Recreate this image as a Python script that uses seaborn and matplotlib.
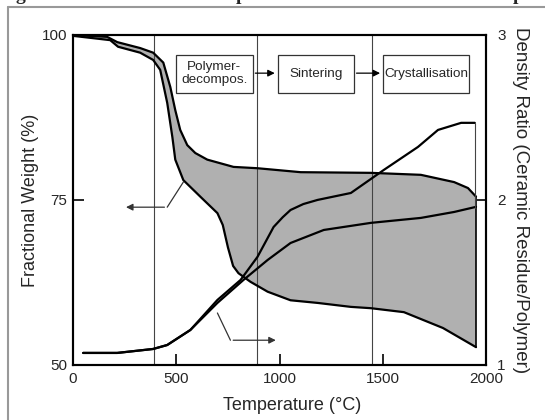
import numpy as np
import matplotlib
matplotlib.use("Agg")
import matplotlib.pyplot as plt
from matplotlib.patches import Rectangle
from matplotlib.lines import Line2D
import seaborn as sns

# weight loss band (upper / lower boundary), left axis, %
temp_upper = [0, 165, 214, 325, 388, 437, 471, 495, 519, 553, 592, 650, 777, 893, 1102, 1442, 1684, 1845, 1912, 1951]
weight_upper = [100, 99.7, 98.9, 98.0, 97.3, 95.8, 92.1, 88.6, 85.6, 83.3, 82.1, 81.1, 80.0, 79.8, 79.2, 79.1, 78.8, 77.7, 76.8, 75.5]

temp_lower = [0, 180, 218, 325, 388, 422, 456, 481, 495, 534, 616, 699, 725, 750, 775, 801, 859, 942, 1053, 1184, 1345, 1442, 1602, 1791, 1951]
weight_lower = [99.85, 99.2, 98.2, 97.3, 96.2, 94.7, 89.7, 84.5, 81.1, 78.0, 75.5, 73.0, 71.2, 67.8, 65.0, 63.9, 62.6, 61.1, 59.8, 59.4, 58.8, 58.6, 58.0, 55.6, 52.7]

# density ratio curves, right axis
temp_dens_a = [49, 214, 388, 456, 568, 699, 811, 893, 971, 1015, 1053, 1115, 1184, 1345, 1505, 1670, 1767, 1879, 1945]
dens_a = [1.073, 1.073, 1.097, 1.121, 1.212, 1.394, 1.515, 1.655, 1.836, 1.895, 1.939, 1.975, 2.0, 2.042, 2.182, 2.321, 2.424, 2.467, 2.467]

temp_dens_b = [49, 214, 388, 456, 568, 699, 825, 942, 1053, 1214, 1442, 1587, 1684, 1845, 1951]
dens_b = [1.073, 1.073, 1.097, 1.121, 1.212, 1.376, 1.515, 1.636, 1.739, 1.818, 1.861, 1.879, 1.891, 1.927, 1.958]

# stage borders and labels
stage_lines = [390, 890, 1445]
stage_names = ["Polymer-\ndecompos.", "Sintering", "Crystallisation"]
stage_boxes = [(500, 869), (990, 1359), (1500, 1917)]

sns.set_style("ticks")
plt.rcParams["font.family"] = ["Liberation Sans", "DejaVu Sans"]

fig, ax = plt.subplots(figsize=(5.45, 4.2), dpi=100)
fig.subplots_adjust(left=0.134, right=0.892, bottom=0.131, top=0.917)
ax2 = ax.twinx()

# grey band between the two weight curves
ax.fill(np.r_[temp_upper, temp_lower[::-1]], np.r_[weight_upper, weight_lower[::-1]],
        color="#b0b0b0", lw=0, zorder=1)
sns.lineplot(x=temp_upper, y=weight_upper, ax=ax, color="k", lw=1.6, estimator=None, zorder=3)
sns.lineplot(x=temp_lower, y=weight_lower, ax=ax, color="k", lw=1.6, estimator=None, zorder=3)
ax.plot([temp_upper[-1], temp_lower[-1]], [weight_upper[-1], weight_lower[-1]], color="k", lw=1.2, zorder=3)

for xv in stage_lines:
    ax.axvline(xv, color="#444444", lw=0.8, zorder=2)

sns.lineplot(x=temp_dens_a, y=dens_a, ax=ax2, color="k", lw=1.6, estimator=None)
sns.lineplot(x=temp_dens_b, y=dens_b, ax=ax2, color="k", lw=1.6, estimator=None)
ax2.plot([temp_dens_a[-1], temp_dens_a[-1]], [dens_a[-1], 1.95], color="#444444", lw=0.8)

# stage boxes with arrows between them
for (x0, x1), name in zip(stage_boxes, stage_names):
    ax.add_patch(Rectangle((x0, 91.2), x1 - x0, 5.8, fill=True, fc="white",
                           ec="#333333", lw=0.9, zorder=4))
    ax.text((x0 + x1) / 2, 94.1, name, ha="center", va="center", fontsize=9.7,
            linespacing=1.1, zorder=5)
for i in range(len(stage_boxes) - 1):
    ax.annotate("", xy=(stage_boxes[i + 1][0], 94.2), xytext=(stage_boxes[i][1], 94.2),
                arrowprops=dict(arrowstyle="-|>", color="k", lw=0.9, mutation_scale=10), zorder=5)

# leader arrows to the axes
ax.plot([534, 456], [77.7, 73.9], color="#333333", lw=0.9)
ax.annotate("", xy=(243, 73.9), xytext=(456, 73.9),
            arrowprops=dict(arrowstyle="-|>", color="#333333", lw=0.9, mutation_scale=10))
ax2.plot([699, 762], [1.315, 1.15], color="#333333", lw=0.9)
ax2.annotate("", xy=(995, 1.15), xytext=(762, 1.15),
             arrowprops=dict(arrowstyle="-|>", color="#333333", lw=0.9, mutation_scale=10))

ax.set_xlim(0, 2000)
ax.set_ylim(50, 100)
ax2.set_ylim(1, 3)
ax.set_xticks([0, 500, 1000, 1500, 2000])
ax.set_yticks([50, 75, 100])
ax2.set_yticks([1, 2, 3])
ax.tick_params(direction="in", length=8, width=1.4, labelsize=11, pad=4)
ax.tick_params(axis="x", pad=5)
ax2.tick_params(direction="in", length=8, width=1.4, labelsize=11, pad=8)
for a in (ax, ax2):
    for s in a.spines.values():
        s.set_linewidth(1.5)
        s.set_color("k")

ax.set_xlabel("Temperature (°C)", fontsize=13)
ax.xaxis.set_label_coords(0.53, -0.097)
ax.set_ylabel("Fractional Weight (%)", fontsize=13, labelpad=2)
ax2.set_ylabel("Density Ratio (Ceramic Residue/Polymer)", fontsize=13.5, rotation=270, labelpad=17)

# outer frame of the original figure
fig.add_artist(Line2D([0.015, 1.0], [0.983, 0.983], transform=fig.transFigure, color="#999999", lw=1.5))
fig.add_artist(Line2D([0.015, 0.015], [0.0, 0.983], transform=fig.transFigure, color="#999999", lw=1.5))

# clipped caption line above the frame
for xp, ch in [(0.028, "g"), (0.432, "p"), (0.94, "p")]:
    fig.text(xp, 1.0, ch, fontsize=14, fontweight="bold", family="Liberation Serif", va="baseline")

fig.savefig("out.png", dpi=100)
